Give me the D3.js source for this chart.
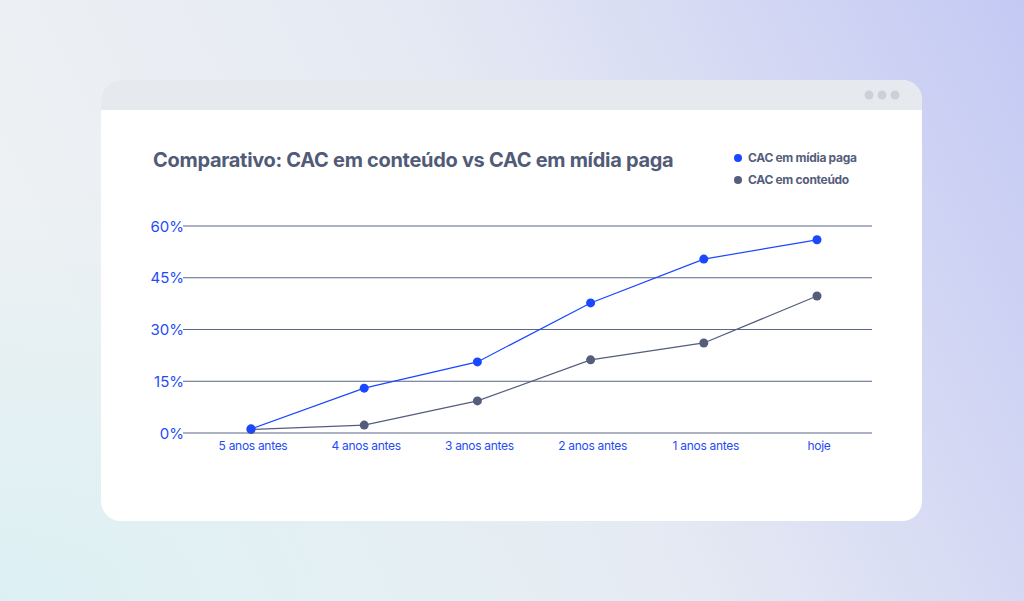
<!DOCTYPE html><html><head><meta charset="utf-8">
<script src="https://cdn.jsdelivr.net/npm/d3@7"></script>
<style>body{margin:0;overflow:hidden}</style></head><body>
<svg id="c" width="1024" height="601"></svg>
<script>
const categories=["5 anos antes","4 anos antes","3 anos antes","2 anos antes","1 anos antes","hoje"];
const midiaPaga=[1.2,13,20.6,37.7,50.4,56];
const conteudo=[1,2.3,9.3,21.2,26.1,39.7];
const yTicks=[0,15,30,45,60];
const svg=d3.select("#c");
const defs=svg.append("defs");
const g=defs.append("linearGradient").attr("id","bg").attr("x1","0").attr("y1","0.3").attr("x2","1").attr("y2","0");
g.append("stop").attr("offset","0").attr("stop-color","#eef1f3");
g.append("stop").attr("offset","0.45").attr("stop-color","#e5e9f3");
g.append("stop").attr("offset","1").attr("stop-color","#c4c9f4");
const r=defs.append("radialGradient").attr("id","cy").attr("cx","0").attr("cy","1").attr("r","0.7");
r.append("stop").attr("offset","0").attr("stop-color","#dcf0f3").attr("stop-opacity",1);
r.append("stop").attr("offset","1").attr("stop-color","#dcf0f3").attr("stop-opacity",0);
svg.append("rect").attr("width",1024).attr("height",601).attr("fill","url(#bg)");
svg.append("rect").attr("width",1024).attr("height",601).attr("fill","url(#cy)");
const cp=defs.append("clipPath").attr("id","card");
cp.append("rect").attr("x",101).attr("y",80).attr("width",821).attr("height",441).attr("rx",20);
const card=svg.append("g").attr("clip-path","url(#card)");
card.append("rect").attr("x",101).attr("y",80).attr("width",821).attr("height",441).attr("fill","#fff");
card.append("rect").attr("x",101).attr("y",80).attr("width",821).attr("height",30).attr("fill","#e6e9ed");
[869,882,895].forEach(x=>svg.append("circle").attr("cx",x).attr("cy",95).attr("r",4.5).attr("fill","#cdd1d7"));
const font="Inter, 'Noto Sans', sans-serif";
svg.append("text").attr("x",153).attr("y",167).attr("font-family",font).attr("font-size",20).attr("font-weight",700).attr("fill","#515b78").attr("letter-spacing",-0.3).text("Comparativo: CAC em conteúdo vs CAC em mídia paga");
const x=d3.scalePoint().domain(categories).range([251,817]);
const y=d3.scaleLinear().domain([0,60]).range([433,226]);
const grid=svg.append("g");
yTicks.forEach(t=>{
 grid.append("line").attr("x1",183).attr("x2",872).attr("y1",y(t)).attr("y2",y(t)).attr("stroke","#5a6587").attr("stroke-width",1);
 grid.append("text").attr("x",184).attr("y",y(t)+5.5).attr("text-anchor","end").attr("font-family",font).attr("font-size",15).attr("fill","#1f4cf5").text(t+"%");
});
categories.forEach(c=>svg.append("text").attr("x",x(c)+2).attr("y",450).attr("text-anchor","middle").attr("font-family",font).attr("font-size",12).attr("fill","#1f4cf5").attr("letter-spacing",-0.3).text(c));
const series=[{v:conteudo,c:"#545e7c"},{v:midiaPaga,c:"#1a47ff"}];
const line=d3.line().x((d,i)=>x(categories[i])).y(d=>y(d));
series.forEach(s=>{
 svg.append("path").attr("d",line(s.v)).attr("fill","none").attr("stroke",s.c).attr("stroke-width",1.2);
 s.v.forEach((d,i)=>svg.append("circle").attr("cx",x(categories[i])).attr("cy",y(d)).attr("r",4.5).attr("fill",s.c));
});
[["CAC em mídia paga","#1a47ff",158],["CAC em conteúdo","#545e7c",180]].forEach(([t,c,yy])=>{
 svg.append("circle").attr("cx",738).attr("cy",yy).attr("r",4).attr("fill",c);
 svg.append("text").attr("x",748).attr("y",yy+4).attr("font-family",font).attr("font-size",12).attr("font-weight",700).attr("fill","#545e7c").attr("letter-spacing",-0.3).text(t);
});
</script></body></html>
